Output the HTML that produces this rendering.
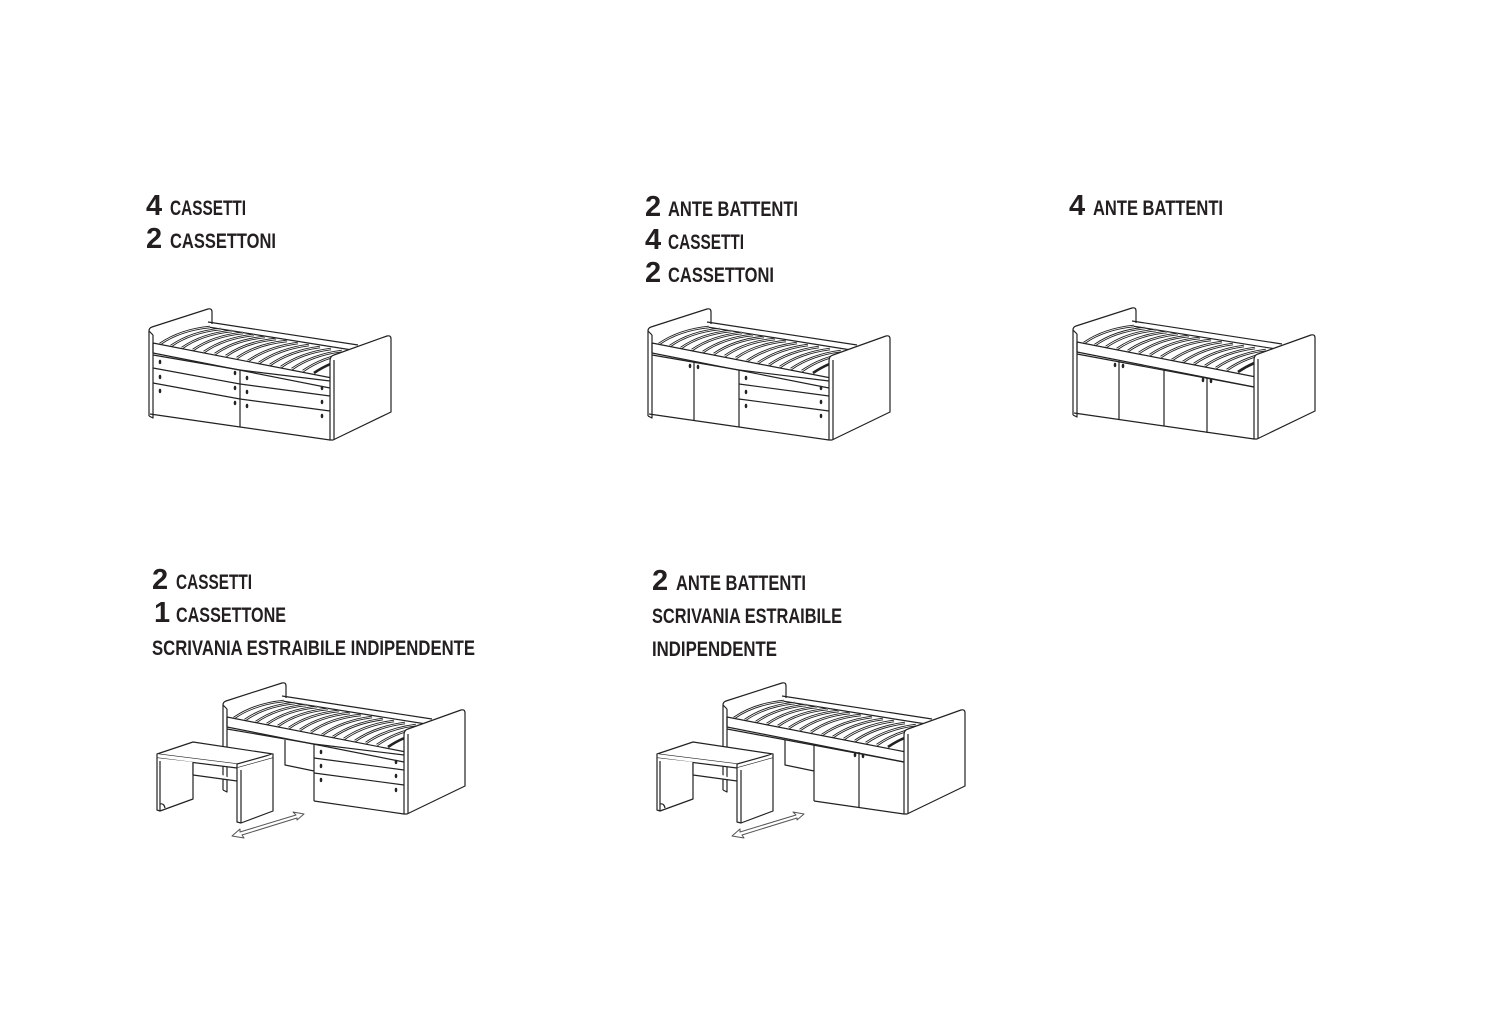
<!DOCTYPE html>
<html><head><meta charset="utf-8"><style>
html,body{margin:0;padding:0;background:#fff;}
svg{display:block}
.t{font-family:"Liberation Sans Narrow","Liberation Sans",sans-serif;fill:#231f20;font-weight:bold}
</style></head><body>
<svg width="1500" height="1023" viewBox="0 0 1500 1023" xmlns="http://www.w3.org/2000/svg">
<defs>
<g id="base" fill="none" stroke="#222" stroke-width="1.2" stroke-linejoin="round">
  <!-- headboard -->
  <path d="M149,416 L149,331 Q149,328 152,327 L208,309 Q212,308 212,312 L212,324" fill="#fff"/>
  <path d="M153,335 L153,418 L149,416"/>
  <path d="M149,331 L153,335"/>
  <!-- back rail -->
  <path d="M208,322 L358,345 M208,327 L352,350"/>
  <!-- slats -->
  <g stroke="#222" stroke-width="2.6">
    <path d="M160,344 Q180,330 210,327"/><path d="M171,346 Q191,332 221,329"/><path d="M182,348 Q202,334 232,331"/>
    <path d="M193,350 Q213,336 243,333"/><path d="M204,352 Q224,338 254,335"/><path d="M215,354 Q235,340 265,337"/>
    <path d="M226,356 Q246,342 276,339"/><path d="M237,358 Q257,344 287,341"/><path d="M248,361 Q268,347 298,343"/>
    <path d="M259,363 Q279,349 309,345"/><path d="M270,365 Q290,351 320,347"/><path d="M281,367 Q301,353 331,349"/>
    <path d="M292,369 Q312,355 342,351"/><path d="M303,371 Q323,357 350,353"/><path d="M314,373 Q330,362 350,358"/>
  </g>
  <g stroke="#fff" stroke-width="0.8">
    <path d="M160,344 Q180,330 210,327"/><path d="M171,346 Q191,332 221,329"/><path d="M182,348 Q202,334 232,331"/>
    <path d="M193,350 Q213,336 243,333"/><path d="M204,352 Q224,338 254,335"/><path d="M215,354 Q235,340 265,337"/>
    <path d="M226,356 Q246,342 276,339"/><path d="M237,358 Q257,344 287,341"/><path d="M248,361 Q268,347 298,343"/>
    <path d="M259,363 Q279,349 309,345"/><path d="M270,365 Q290,351 320,347"/><path d="M281,367 Q301,353 331,349"/>
    <path d="M292,369 Q312,355 342,351"/><path d="M303,371 Q323,357 350,353"/>
  </g>
  <!-- front rail -->
  <path d="M153,343 L332,378 M153,353 L330,388 M153,343 L153,353"/>
  <!-- footboard -->
  <path d="M330,440 L330,361 Q330,356 334,355 L387,336 Q391,335 391,339 L391,412 L333,440 Z" fill="#fff"/>
  <path d="M334,360 L334,440"/>
</g>
<g id="drawR" fill="none" stroke="#222" stroke-width="1.2">
  <path d="M240,370 L240,427"/>
  <path d="M240,370 L330,381 M240,384 L330,396 M240,399 L330,411 M240,427 L330,440"/>
  <g fill="#222" stroke="none">
    <ellipse cx="247" cy="378" rx="1.3" ry="2.2"/><ellipse cx="247" cy="392" rx="1.3" ry="2.2"/><ellipse cx="247" cy="406" rx="1.3" ry="2.2"/>
    <ellipse cx="322" cy="388" rx="1.3" ry="2.2"/><ellipse cx="322" cy="402" rx="1.3" ry="2.2"/><ellipse cx="322" cy="416" rx="1.3" ry="2.2"/>
  </g>
</g>
<g id="desk" fill="#fff" stroke="#222" stroke-width="1.2" stroke-linejoin="round">
  <path d="M193,742 L273,754 L237,764 L157,754 Z"/>
  <path d="M157,754 L157,758 L237,768 L237,764"/>
  <path d="M237,768 L273,758 L273,754"/>
  <path d="M157,758 L157,810 L160,811 L193,799 L193,762"/>
  <path d="M160,761 L160,811"/>
  <path d="M193,763 L193,775 L237,781"/>
  <path d="M237,768 L237,822 L241,823 L273,811 L273,758"/>
  <path d="M241,770 L241,823"/>
  <path d="M160,804 Q164,803 165,808" />
  <path d="M232,836 L240,829 L240,832 L296,815 L293,812 L304,814 L297,820 L297,818 L242,835 L244,838 Z" fill="none" stroke="#555" stroke-width="1"/>
</g>
</defs>

<!-- Bed 1 -->
<use href="#base"/>
<g fill="none" stroke="#222" stroke-width="1.2">
  <path d="M153,355 L240,370 M153,368 L240,384 M153,383 L240,399 M150,414 L240,427"/>
</g>
<g fill="#222"><ellipse cx="160" cy="362" rx="1.3" ry="2.2"/><ellipse cx="160" cy="377" rx="1.3" ry="2.2"/><ellipse cx="160" cy="391" rx="1.3" ry="2.2"/>
<ellipse cx="235" cy="373" rx="1.3" ry="2.2"/><ellipse cx="235" cy="388" rx="1.3" ry="2.2"/><ellipse cx="235" cy="403" rx="1.3" ry="2.2"/></g>
<use href="#drawR"/>

<!-- Bed 2 -->
<g transform="translate(499,0)">
  <use href="#base"/>
  <path d="M153,355 L240,370 M150,414 L240,427 M195,362 L195,421" fill="none" stroke="#222" stroke-width="1.2"/>
  <g fill="#222"><ellipse cx="191" cy="366" rx="1.3" ry="2.2"/><ellipse cx="199" cy="367" rx="1.3" ry="2.2"/></g>
  <use href="#drawR"/>
</g>

<!-- Bed 3 -->
<g transform="translate(924,-1)">
  <use href="#base"/>
  <path d="M153,355 L330,388 M150,414 L330,440 M195,362 L195,421 M240,370 L240,427 M283,379 L283,434" fill="none" stroke="#222" stroke-width="1.2"/>
  <g fill="#222"><ellipse cx="191" cy="366" rx="1.3" ry="2.2"/><ellipse cx="199" cy="367" rx="1.3" ry="2.2"/>
  <ellipse cx="279" cy="381" rx="1.3" ry="2.2"/><ellipse cx="287" cy="382" rx="1.3" ry="2.2"/></g>
</g>

<!-- Bed 4 -->
<g transform="translate(74,374)">
  <use href="#base"/>
  <path d="M211,366 L211,391 L240,397 M153,355 L240,370" fill="none" stroke="#222" stroke-width="1.2"/>
  <use href="#drawR"/>
</g>
<use href="#desk"/>

<!-- Bed 5 -->
<g transform="translate(574,374)">
  <use href="#base"/>
  <path d="M211,366 L211,391 L240,397 M153,355 L330,388 M240,370 L240,427 M240,427 L330,440 M285,378 L285,434" fill="none" stroke="#222" stroke-width="1.2"/>
  <g fill="#222"><ellipse cx="281" cy="381" rx="1.3" ry="2.2"/><ellipse cx="289" cy="382" rx="1.3" ry="2.2"/></g>
</g>
<use href="#desk" transform="translate(500,0)"/>

<!-- Labels -->
<g class="t">
  <text x="146" y="215" font-size="29">4</text><text x="170" y="215" font-size="21" textLength="76" lengthAdjust="spacingAndGlyphs">CASSETTI</text>
  <text x="146" y="248" font-size="29">2</text><text x="170" y="248" font-size="21" textLength="106" lengthAdjust="spacingAndGlyphs">CASSETTONI</text>

  <text x="645" y="216" font-size="29">2</text><text x="668" y="216" font-size="21" textLength="130" lengthAdjust="spacingAndGlyphs">ANTE BATTENTI</text>
  <text x="645" y="249" font-size="29">4</text><text x="668" y="249" font-size="21" textLength="76" lengthAdjust="spacingAndGlyphs">CASSETTI</text>
  <text x="645" y="282" font-size="29">2</text><text x="668" y="282" font-size="21" textLength="106" lengthAdjust="spacingAndGlyphs">CASSETTONI</text>

  <text x="1069" y="215" font-size="29">4</text><text x="1093" y="215" font-size="21" textLength="130" lengthAdjust="spacingAndGlyphs">ANTE BATTENTI</text>

  <text x="152" y="589" font-size="29">2</text><text x="176" y="589" font-size="21" textLength="76" lengthAdjust="spacingAndGlyphs">CASSETTI</text>
  <text x="154" y="622" font-size="29">1</text><text x="176" y="622" font-size="21" textLength="110" lengthAdjust="spacingAndGlyphs">CASSETTONE</text>
  <text x="152" y="655" font-size="21" textLength="323" lengthAdjust="spacingAndGlyphs">SCRIVANIA ESTRAIBILE INDIPENDENTE</text>

  <text x="652" y="590" font-size="29">2</text><text x="676" y="590" font-size="21" textLength="130" lengthAdjust="spacingAndGlyphs">ANTE BATTENTI</text>
  <text x="652" y="623" font-size="21" textLength="190" lengthAdjust="spacingAndGlyphs">SCRIVANIA ESTRAIBILE</text>
  <text x="652" y="656" font-size="21" textLength="125" lengthAdjust="spacingAndGlyphs">INDIPENDENTE</text>
</g>
</svg>
</body></html>
